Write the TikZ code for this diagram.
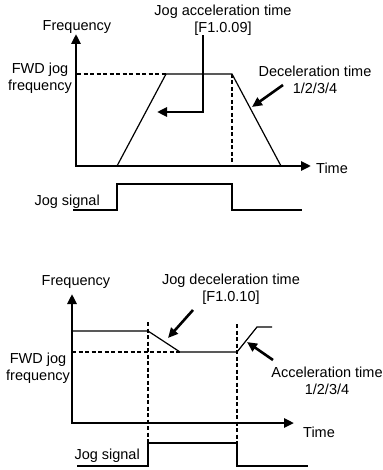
\documentclass[tikz,border=0pt]{standalone}
\usepackage{fontspec}
\setmainfont{Liberation Sans}
\usetikzlibrary{arrows.meta}

\begin{document}
\begin{tikzpicture}[x=1pt, y=-1pt, font=\fontsize{14.5}{17}\selectfont,
  axis/.style={line width=2.6pt, line join=miter, {Triangle[length=10pt, width=9pt]}-{Triangle[length=10pt, width=9pt]}},
  curve/.style={line width=1.2pt},
  guide/.style={line width=1.4pt, dash pattern=on 4pt off 2.5pt},
  pointer/.style={line width=2.6pt, -{Triangle[length=10pt, width=9pt]}},
  lbl/.style={inner sep=0pt, align=center}]
  \useasboundingbox (0,0) rectangle (382,470);

  % Upper chart: jog acceleration
  \draw[axis] (76,34) -- (76,166) -- (311,166);
  \node[lbl] (freqA) at (77,27) {Frequency};
  \node[lbl, anchor=west] (timeA) at (316,168) {Time};
  \node[lbl] (fwdA) at (40,78) {FWD jog\\frequency};
  \node[lbl] (accA) at (223,20) {Jog acceleration time\\{[F1.0.09]}};
  \node[lbl] (decA) at (315,80) {Deceleration time\\1/2/3/4};

  % Frequency trace
  \draw[curve] (117,166) -- (166,74) -- (232,74) -- (281,166);
  \draw[guide] (77,74) -- (166,74);
  \draw[guide] (232,74) -- (232,166);

  % Pointers
  \coordinate (accBend) at (203,112);
  \coordinate (accTip) at (157,112);
  \coordinate (decTip) at (252,107);
  \draw[pointer] (accA.south -| accBend) -- (accBend) -- (accTip);
  \draw[pointer] (283,85) -- (decTip);

  % Jog signal
  \draw[curve] (73,210) -- (117,210) -- (117,184) -- (232,184) -- (232,210) -- (302,210);
  \node[lbl, anchor=east] (jogA) at (100,202) {Jog signal};

  % Lower chart: jog deceleration
  \draw[axis] (72,294) -- (72,423) -- (294,423);
  \node[lbl] (freqB) at (76,282) {Frequency};
  \node[lbl, anchor=west] (timeB) at (303,432) {Time};
  \node[lbl] (fwdB) at (38,368) {FWD jog\\frequency};
  \node[lbl] (decB) at (231,289) {Jog deceleration time\\{[F1.0.10]}};
  \node[lbl] (accB) at (327,381) {Acceleration time\\1/2/3/4};

  % Frequency trace
  \draw[curve] (72,331) -- (148,331) -- (180,352) -- (237,352) -- (257,327) -- (272,327);
  \draw[guide] (72,352) -- (180,352);
  \foreach \xx/\yy in {148/322, 237/324} {
    \draw[guide] (\xx,\yy) -- (\xx,465);
  }

  % Pointers
  \coordinate (decTipB) at (168,338);
  \coordinate (accTipB) at (247,342);
  \draw[pointer] (193,310) -- (decTipB);
  \draw[pointer] (273,360) -- (accTipB);

  % Jog signal
  \draw[curve] (77,466) -- (148,466) -- (148,443) -- (237,443) -- (237,466) -- (308,466);
  \node[lbl, anchor=east] (jogB) at (140,456) {Jog signal};
\end{tikzpicture}
\end{document}
